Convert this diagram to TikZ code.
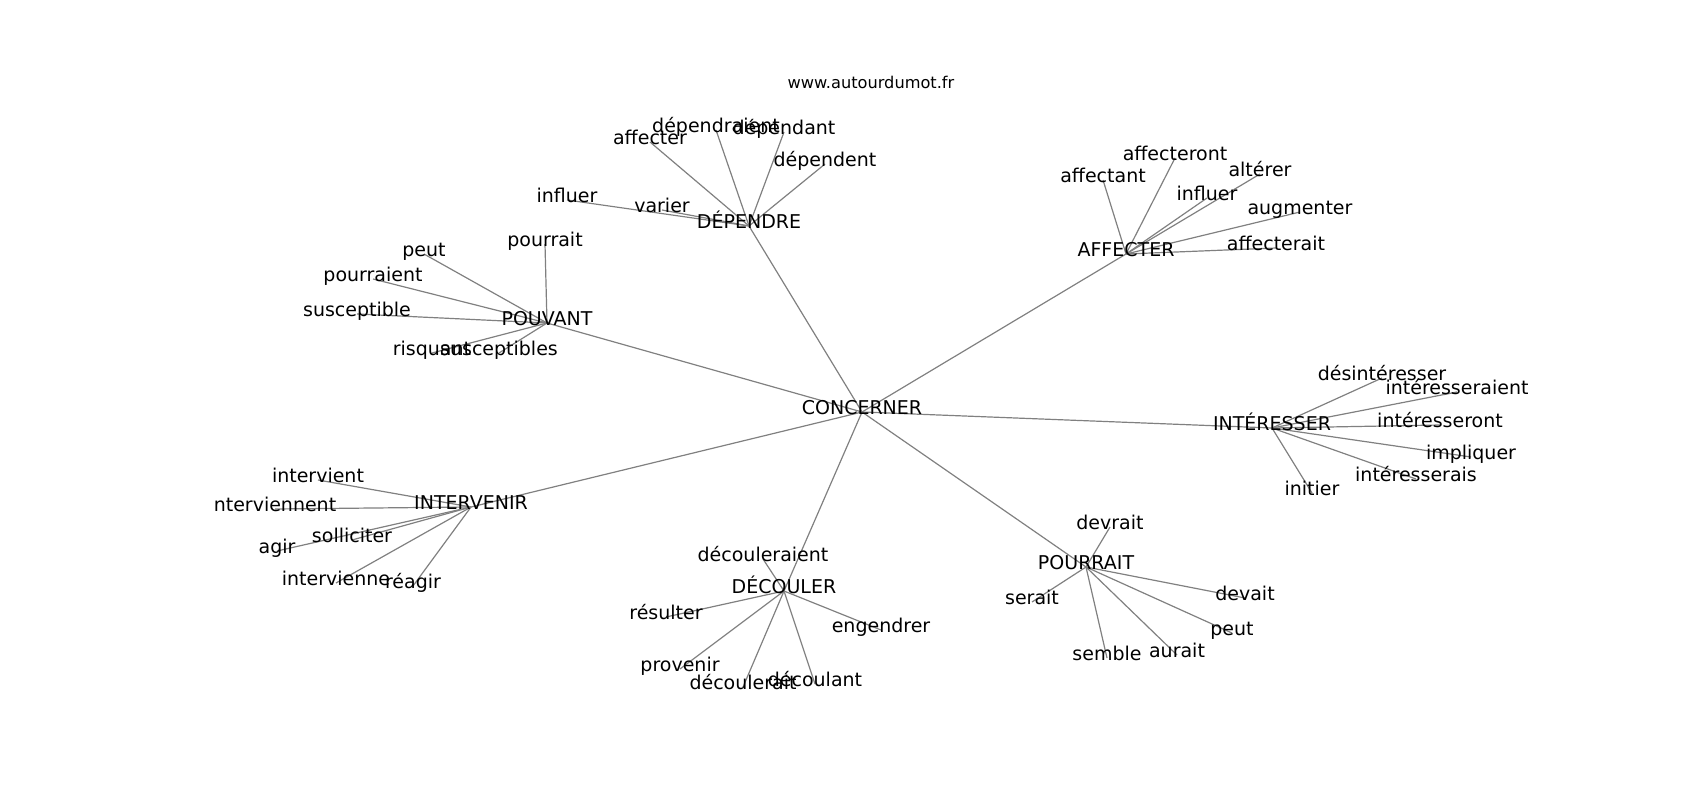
\documentclass[tikz,border=0pt]{standalone}
\usepackage{fontspec}
\setmainfont{DejaVu Sans}
\usetikzlibrary{backgrounds}

\tikzset{
	word/.style={draw=none,inner sep=0pt,text height=0.76em,text depth=0.24em,font=\fontsize{19}{22}\selectfont},
	link/.style={gray,line width=1.2pt}
}

\begin{document}
\begin{tikzpicture}[x=1pt,y=-1pt]
		\useasboundingbox (0,0) rectangle (1700,800);
		\node[draw=none,inner sep=0pt,font=\fontsize{16.2}{19}\selectfont] (site) at (871,82) {www.autourdumot.fr};
		\begin{scope}[shift={(0,3)}]
		% centre
		\node[word] (conc) at (862,409) {CONCERNER};
		% DÉPENDRE
		\node[word] (dep) at (749,223) {DÉPENDRE};
		\node[word] (dep1) at (650,139) {affecter};
		\node[word] (dep2) at (716,127) {dépendraient};
		\node[word] (dep3) at (784,129) {dépendant};
		\node[word] (dep4) at (825,161) {dépendent};
		\node[word] (dep5) at (567,197) {influer};
		\node[word] (dep6) at (662,207) {varier};
		% POUVANT
		\node[word] (pouv) at (547,320) {POUVANT};
		\node[word] (pouv1) at (545,241) {pourrait};
		\node[word] (pouv2) at (424,251) {peut};
		\node[word] (pouv3) at (373,276) {pourraient};
		\node[word] (pouv4) at (357,311) {susceptible};
		\node[word] (pouv5) at (432,350) {risquant};
		\node[word] (pouv6) at (499,350) {susceptibles};
		% AFFECTER
		\node[word] (aff) at (1126,251) {AFFECTER};
		\node[word] (aff1) at (1103,177) {affectant};
		\node[word] (aff2) at (1175,155) {affecteront};
		\node[word] (aff3) at (1260,171) {altérer};
		\node[word] (aff4) at (1207,195) {influer};
		\node[word] (aff5) at (1300,209) {augmenter};
		\node[word] (aff6) at (1276,245) {affecterait};
		% INTÉRESSER
		\node[word] (inter) at (1272,425) {INTÉRESSER};
		\node[word] (inter1) at (1382,375) {désintéresser};
		\node[word] (inter2) at (1457,389) {intéresseraient};
		\node[word] (inter3) at (1440,422) {intéresseront};
		\node[word] (inter4) at (1471,454) {impliquer};
		\node[word] (inter5) at (1416,476) {intéresserais};
		\node[word] (inter6) at (1312,490) {initier};
		% INTERVENIR
		\node[word] (interv) at (471,504) {INTERVENIR};
		\node[word] (interv1) at (318,477) {intervient};
		\node[word] (interv2) at (275,506) {nterviennent};
		\node[word] (interv3) at (277,548) {agir};
		\node[word] (interv4) at (352,537) {solliciter};
		\node[word] (interv5) at (336,580) {intervienne};
		\node[word] (interv6) at (413,583) {réagir};
		% DÉCOULER
		\node[word] (decoul) at (784,588) {DÉCOULER};
		\node[word] (decoul1) at (763,556) {découleraient};
		\node[word] (decoul2) at (666,614) {résulter};
		\node[word] (decoul3) at (881,627) {engendrer};
		\node[word] (decoul4) at (680,666) {provenir};
		\node[word] (decoul5) at (743,684) {découlerait};
		\node[word] (decoul6) at (815,681) {découlant};
		% POURRAIT
		\node[word] (pourr) at (1086,564) {POURRAIT};
		\node[word] (pourr1) at (1110,524) {devrait};
		\node[word] (pourr2) at (1032,599) {serait};
		\node[word] (pourr3) at (1245,595) {devait};
		\node[word] (pourr4) at (1232,630) {peut};
		\node[word] (pourr5) at (1107,655) {semble};
		\node[word] (pourr6) at (1177,652) {aurait};
		% edges under the words
		\begin{scope}[on background layer]
		\draw[link] (conc.center) -- (dep.center);
		\draw[link] (conc.center) -- (pouv.center);
		\draw[link] (conc.center) -- (aff.center);
		\draw[link] (conc.center) -- (inter.center);
		\draw[link] (conc.center) -- (interv.center);
		\draw[link] (conc.center) -- (decoul.center);
		\draw[link] (conc.center) -- (pourr.center);
		\draw[link] (dep.center) -- (dep1.center);
		\draw[link] (dep.center) -- (dep2.center);
		\draw[link] (dep.center) -- (dep3.center);
		\draw[link] (dep.center) -- (dep4.center);
		\draw[link] (dep.center) -- (dep5.center);
		\draw[link] (dep.center) -- (dep6.center);
		\draw[link] (pouv.center) -- (pouv1.center);
		\draw[link] (pouv.center) -- (pouv2.center);
		\draw[link] (pouv.center) -- (pouv3.center);
		\draw[link] (pouv.center) -- (pouv4.center);
		\draw[link] (pouv.center) -- (pouv5.center);
		\draw[link] (pouv.center) -- (pouv6.center);
		\draw[link] (aff.center) -- (aff1.center);
		\draw[link] (aff.center) -- (aff2.center);
		\draw[link] (aff.center) -- (aff3.center);
		\draw[link] (aff.center) -- (aff4.center);
		\draw[link] (aff.center) -- (aff5.center);
		\draw[link] (aff.center) -- (aff6.center);
		\draw[link] (inter.center) -- (inter1.center);
		\draw[link] (inter.center) -- (inter2.center);
		\draw[link] (inter.center) -- (inter3.center);
		\draw[link] (inter.center) -- (inter4.center);
		\draw[link] (inter.center) -- (inter5.center);
		\draw[link] (inter.center) -- (inter6.center);
		\draw[link] (interv.center) -- (interv1.center);
		\draw[link] (interv.center) -- (interv2.center);
		\draw[link] (interv.center) -- (interv3.center);
		\draw[link] (interv.center) -- (interv4.center);
		\draw[link] (interv.center) -- (interv5.center);
		\draw[link] (interv.center) -- (interv6.center);
		\draw[link] (decoul.center) -- (decoul1.center);
		\draw[link] (decoul.center) -- (decoul2.center);
		\draw[link] (decoul.center) -- (decoul3.center);
		\draw[link] (decoul.center) -- (decoul4.center);
		\draw[link] (decoul.center) -- (decoul5.center);
		\draw[link] (decoul.center) -- (decoul6.center);
		\draw[link] (pourr.center) -- (pourr1.center);
		\draw[link] (pourr.center) -- (pourr2.center);
		\draw[link] (pourr.center) -- (pourr3.center);
		\draw[link] (pourr.center) -- (pourr4.center);
		\draw[link] (pourr.center) -- (pourr5.center);
		\draw[link] (pourr.center) -- (pourr6.center);
		\end{scope}
		\end{scope}
	\end{tikzpicture}
\end{document}
